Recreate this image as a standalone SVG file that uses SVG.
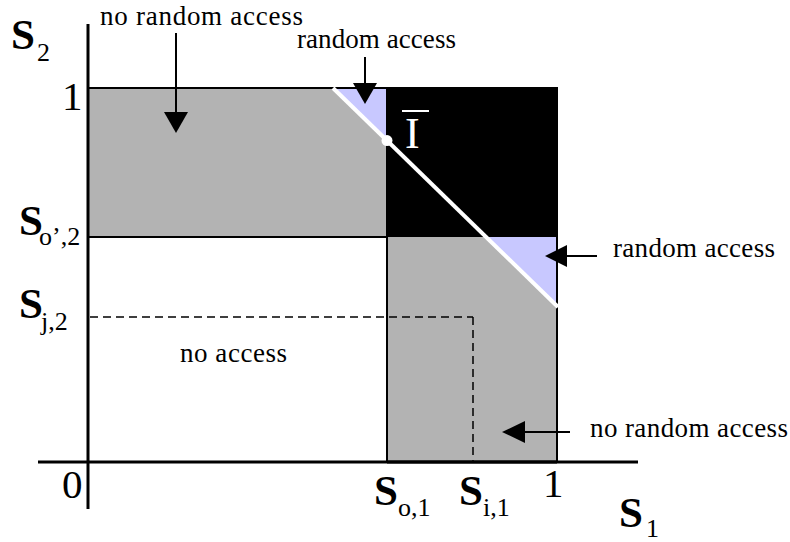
<svg xmlns="http://www.w3.org/2000/svg" width="790" height="542" viewBox="0 0 790 542">
<style>
text{font-family:"Liberation Serif","Times New Roman",Times,serif}
.lbl{font-size:27px;fill:#000}
.big{font-size:43px;font-weight:bold;fill:#000}
.num{font-size:41px;fill:#000}
.sub{font-size:26px;fill:#000}
.edge{stroke:#000;stroke-width:2;fill:none}
.arr{stroke:#000;stroke-width:2;fill:none}
.head{fill:#000}
.dash{stroke:#000;stroke-width:1.5;stroke-dasharray:8,5;fill:none}
</style>
<rect width="790" height="542" fill="#fff"/>
<g id="regions">
  <g id="top-gray"><rect x="88" y="88" width="299" height="149" fill="#b3b3b3"/></g>
  <g id="black-region"><rect x="387" y="88" width="170" height="149" fill="#000"/></g>
  <g id="lower-gray"><rect x="387" y="237" width="170" height="225" fill="#b3b3b3"/></g>
  <g id="ra-top"><polygon points="333,88 387,88 387,140.6" fill="#c8c8ff"/></g>
  <g id="ra-right"><polygon points="486,237 557,237 557,306" fill="#c8c8ff"/></g>
  <g id="outlines">
    <polyline class="edge" points="88,88 557,88 557,462"/>
    <line class="edge" x1="88" y1="237" x2="387" y2="237"/>
    <line class="edge" x1="387" y1="237" x2="387" y2="462"/>
    <line class="edge" x1="387" y1="88" x2="387" y2="237"/>
    <line class="edge" x1="387" y1="462" x2="557" y2="462" style="stroke-width:3"/>
  </g>
  <g id="boundary">
    <line x1="333" y1="88" x2="558" y2="307" stroke="#fff" stroke-width="4"/>
    <circle cx="387" cy="140.6" r="5.5" fill="#fff"/>
  </g>
</g>
<g id="axes">
  <line x1="88" y1="24" x2="88" y2="509" stroke="#000" stroke-width="3"/>
  <line x1="38" y1="462" x2="638" y2="462" stroke="#000" stroke-width="3"/>
</g>
<g id="connectors">
  <line class="dash" x1="90" y1="317" x2="473" y2="317"/>
  <line class="dash" x1="473" y1="317" x2="473" y2="461"/>
  <line class="arr" x1="176" y1="33" x2="176" y2="113"/>
  <polygon class="head" points="164,112 188,112 176,133"/>
  <line class="arr" x1="365" y1="57" x2="365" y2="84"/>
  <polygon class="head" points="353,83 377,83 365,104"/>
  <line class="arr" x1="597" y1="256" x2="566" y2="256"/>
  <polygon class="head" points="567,245 567,267 545,256"/>
  <line class="arr" x1="570" y1="432" x2="524" y2="432"/>
  <polygon class="head" points="525,421 525,443 502,432"/>
</g>
<g id="labels">
  <text class="lbl" x="100" y="25" textLength="203" lengthAdjust="spacing">no random access</text>
  <text class="lbl" x="297" y="48" textLength="159" lengthAdjust="spacing">random access</text>
  <text class="lbl" x="613" y="257" textLength="162" lengthAdjust="spacing">random access</text>
  <text class="lbl" x="590" y="437" textLength="198" lengthAdjust="spacing">no random access</text>
  <text class="lbl" x="180" y="362" textLength="107" lengthAdjust="spacing">no access</text>
  <text class="big" x="11" y="49">S</text><text class="sub" x="37" y="61">2</text>
  <text class="num" x="62" y="110">1</text>
  <text class="big" x="19" y="235">S</text><text class="sub" x="39" y="245">o’,2</text>
  <text class="big" x="19" y="318">S</text><text class="sub" x="41" y="330">j,2</text>
  <text class="num" x="62" y="498">0</text>
  <text class="big" x="374" y="505">S</text><text class="sub" x="398" y="516">o,1</text>
  <text class="big" x="459" y="505">S</text><text class="sub" x="483" y="516">i,1</text>
  <text class="num" x="543" y="497">1</text>
  <text class="big" x="619" y="527">S</text><text class="sub" x="646" y="537">1</text>
  <text x="405" y="148" font-size="44" fill="#fff">I</text>
  <line x1="402" y1="111" x2="429" y2="111" stroke="#fff" stroke-width="2"/>
</g>
</svg>
